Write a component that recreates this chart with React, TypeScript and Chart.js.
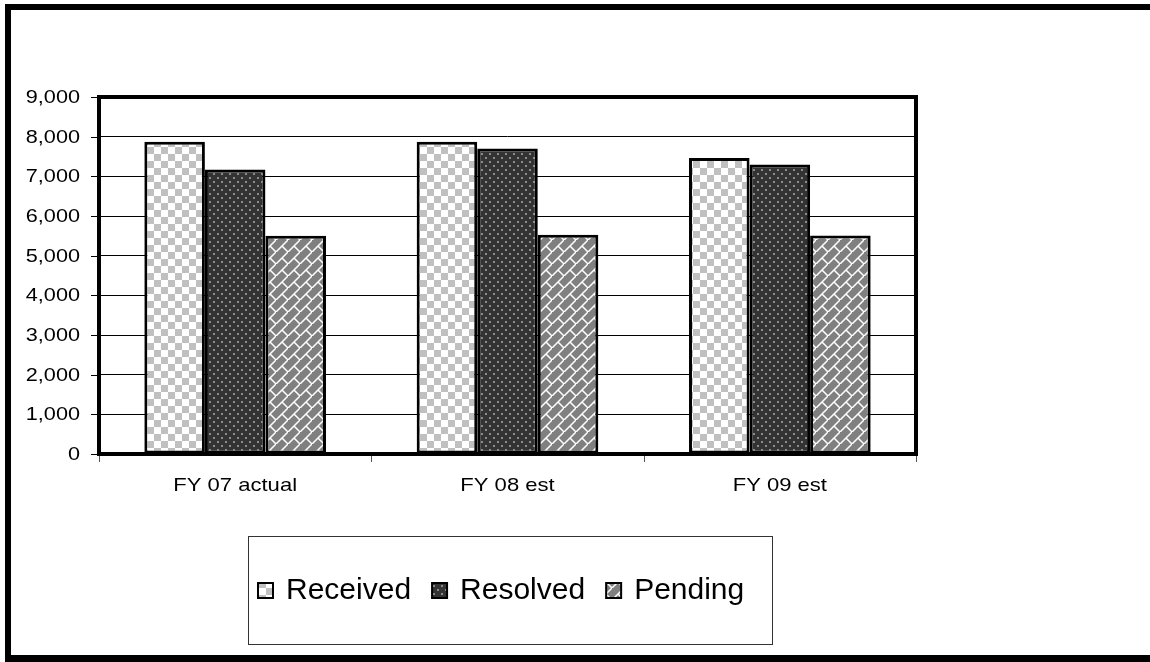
import React, { useEffect, useRef } from "react";
import { Chart, registerables } from "chart.js";

Chart.register(...registerables);

const categories = ["FY 07 actual", "FY 08 est", "FY 09 est"];
const seriesNames = ["Received", "Resolved", "Pending"];
const received = [7870, 7870, 7460];
const resolved = [7170, 7700, 7300];
const pending = [5500, 5530, 5510];
const yTicks = [0, 1000, 2000, 3000, 4000, 5000, 6000, 7000, 8000, 9000];

const FONT = "'Liberation Sans', Arial, sans-serif";

function tile(size: number, draw: (c: CanvasRenderingContext2D) => void): CanvasPattern {
  const cv = document.createElement("canvas");
  cv.width = size;
  cv.height = size;
  const c = cv.getContext("2d")!;
  draw(c);
  return c.createPattern(cv, "repeat")!;
}

function makePatterns() {
  // light checkerboard
  const checker = tile(14, (c) => {
    c.fillStyle = "#ffffff";
    c.fillRect(0, 0, 14, 14);
    c.fillStyle = "#c0c0c0";
    c.fillRect(0, 0, 7, 7);
    c.fillRect(7, 7, 7, 7);
  });
  // dark with grey dots
  const dots = tile(8, (c) => {
    c.fillStyle = "#333333";
    c.fillRect(0, 0, 8, 8);
    c.fillStyle = "#8c8c8c";
    c.fillRect(1, 1, 2, 2);
    c.fillRect(5, 5, 2, 2);
  });
  // grey with white diagonal bricks
  const brick = tile(12, (c) => {
    c.fillStyle = "#808080";
    c.fillRect(0, 0, 12, 12);
    c.strokeStyle = "#ffffff";
    c.lineWidth = 1.5;
    c.beginPath();
    c.moveTo(-1, 13);
    c.lineTo(13, -1);
    c.moveTo(6, 6);
    c.lineTo(12, 12);
    c.stroke();
  });
  return [checker, dots, brick];
}

function drawStretched(
  ctx: CanvasRenderingContext2D,
  text: string,
  x: number,
  y: number,
  align: "left" | "center" | "right",
  sx: number
) {
  ctx.save();
  ctx.translate(x, y);
  ctx.scale(sx, 1);
  ctx.textAlign = align;
  ctx.textBaseline = "middle";
  ctx.fillText(text, 0, 0);
  ctx.restore();
}

export default function App() {
  const ref = useRef<HTMLCanvasElement | null>(null);

  useEffect(() => {
    document.body.style.margin = "0";
    const canvas = ref.current!;
    const patterns = makePatterns();

    const decor = {
      id: "decor",
      beforeDraw(chart: any) {
        const ctx = chart.ctx as CanvasRenderingContext2D;
        ctx.save();
        ctx.fillStyle = "#ffffff";
        ctx.fillRect(0, 0, chart.width, chart.height);
        ctx.restore();
      },
      afterDatasetsDraw(chart: any) {
        const ctx = chart.ctx as CanvasRenderingContext2D;
        const a = chart.chartArea;
        const ys = chart.scales.y;
        ctx.save();

        // outer frame
        ctx.fillStyle = "#000000";
        ctx.fillRect(5, 4, 6, 658);
        ctx.fillRect(5, 4, 1145, 6);
        ctx.fillRect(5, 655, 1145, 7);

        // plot frame
        ctx.strokeStyle = "#000000";
        ctx.lineWidth = 4;
        ctx.strokeRect(a.left, a.top, a.right - a.left, a.bottom - a.top);

        // y tick marks and labels
        ctx.lineWidth = 1;
        ctx.fillStyle = "#000000";
        ctx.font = `19px ${FONT}`;
        for (const v of yTicks) {
          const y = Math.round(ys.getPixelForValue(v)) + 0.5;
          ctx.beginPath();
          ctx.moveTo(a.left - 8, y);
          ctx.lineTo(a.left - 2, y);
          ctx.stroke();
          drawStretched(ctx, v.toLocaleString("en-US"), 80, y, "right", 1.14);
        }

        // x tick marks at category boundaries
        ctx.strokeStyle = "#555555";
        const w = (a.right - a.left) / categories.length;
        for (let i = 0; i <= categories.length; i++) {
          const x = Math.round(a.left + i * w) + 0.5;
          ctx.beginPath();
          ctx.moveTo(x, a.bottom + 2);
          ctx.lineTo(x, a.bottom + 8);
          ctx.stroke();
        }
        const xs = chart.scales.x;
        categories.forEach((c, i) => {
          drawStretched(ctx, c, xs.getPixelForValue(i), 486, "center", 1.16);
        });

        // legend box
        ctx.strokeStyle = "#333333";
        ctx.lineWidth = 1;
        ctx.strokeRect(248.5, 536.5, 524, 108);
        ctx.font = `30px ${FONT}`;
        ctx.textAlign = "left";
        ctx.textBaseline = "middle";
        let lx = 258;
        const ly = 590;
        chart.data.datasets.forEach((ds: any, i: number) => {
          ctx.fillStyle = patterns[i];
          ctx.fillRect(lx, ly - 7, 15, 15);
          ctx.strokeStyle = "#000000";
          ctx.lineWidth = 2;
          ctx.strokeRect(lx, ly - 7, 15, 15);
          ctx.fillStyle = "#000000";
          ctx.fillText(ds.label, lx + 28, ly + 1);
          lx += 28 + ctx.measureText(ds.label).width + 21;
        });

        ctx.restore();
      },
    };

    const chart = new Chart(canvas, {
      type: "bar",
      data: {
        labels: categories,
        datasets: [received, resolved, pending].map((d, i) => ({
          label: seriesNames[i],
          data: d,
          backgroundColor: patterns[i],
          borderColor: "#000000",
          borderWidth: 3,
          borderSkipped: false,
          categoryPercentage: 0.667,
          barPercentage: 1.0,
        })),
      },
      options: {
        animation: false,
        responsive: false,
        devicePixelRatio: 1,
        layout: { padding: { left: 99, top: 97, right: 1150 - 916, bottom: 662 - 454 } },
        plugins: { legend: { display: false }, tooltip: { enabled: false } },
        scales: {
          x: {
            ticks: { display: false },
            grid: { display: false, drawTicks: false },
            border: { display: false },
            afterFit: (s: any) => {
              s.height = 0;
            },
          },
          y: {
            min: 0,
            max: 9000,
            ticks: { display: false, stepSize: 1000 },
            grid: { color: "#000000", lineWidth: 1, drawTicks: false },
            border: { display: false },
            afterFit: (s: any) => {
              s.width = 0;
            },
          },
        },
      },
      plugins: [decor],
    });

    return () => chart.destroy();
  }, []);

  return (
    <div style={{ position: "absolute", left: 0, top: 0, width: 1150, height: 662 }}>
      <canvas ref={ref} width={1150} height={662} />
    </div>
  );
}
